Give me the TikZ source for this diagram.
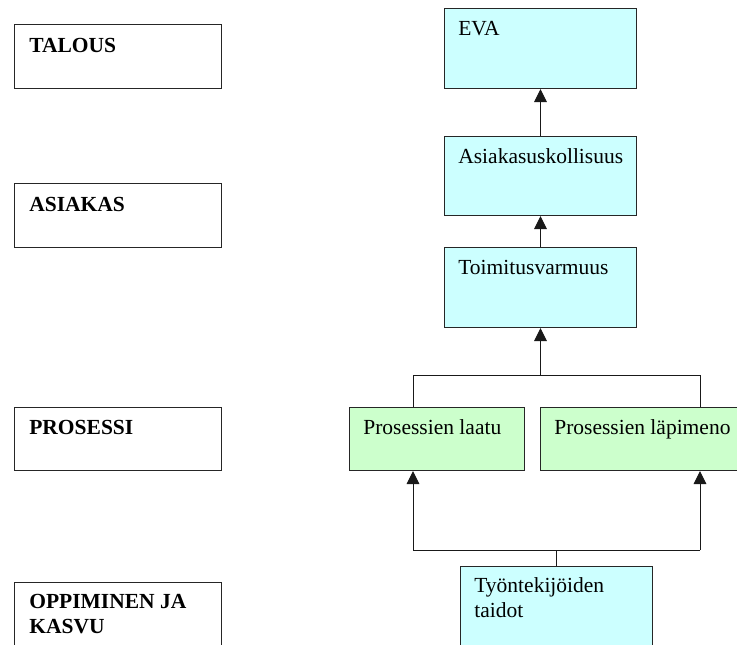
\documentclass[tikz,border=0pt]{standalone}
\usepackage{fontspec}
\setmainfont{Liberation Serif}
\usetikzlibrary{arrows.meta,calc}
\definecolor{boxcyan}{HTML}{CCFFFF}
\definecolor{boxgreen}{HTML}{CCFFCC}
\begin{document}
\begin{tikzpicture}[x=0.6pt,y=-0.6pt,
  box/.style={draw=black!85, line width=0.6pt, inner sep=0pt, anchor=north west},
  perspective/.style={box, fill=white},
  cyanbox/.style={box, fill=boxcyan},
  greenbox/.style={box, fill=boxgreen},
  headtext/.style={anchor=base west, inner sep=0pt, font=\fontsize{12.9}{14.8}\selectfont\bfseries, align=left},
  bodytext/.style={anchor=base west, inner sep=0pt, font=\fontsize{12.9}{14.8}\selectfont, align=left},
  link/.style={draw=black!90, line width=0.6pt},
  arr/.style={link, -{Triangle[width=7.6pt,length=7.8pt]}}]
\clip (0,0) rectangle (737,644);
\fill[white] (0,0) rectangle (737,644);

% perspectives on the left
\node[perspective, minimum width=207*0.6pt, minimum height=64*0.6pt] (talous) at (14,24) {};
\node[perspective, minimum width=207*0.6pt, minimum height=64*0.6pt] (asiakas) at (14,183) {};
\node[perspective, minimum width=207*0.6pt, minimum height=63*0.6pt] (prosessi) at (14,407) {};
\node[perspective, minimum width=207*0.6pt, minimum height=80*0.6pt] (oppiminen) at (14,582) {};
\node[headtext] (talousT) at ($(talous.north west)+(15,28)$) {TALOUS};
\node[headtext] (asiakasT) at ($(asiakas.north west)+(15,28)$) {ASIAKAS};
\node[headtext] (prosessiT) at ($(prosessi.north west)+(15,27)$) {PROSESSI};
% two-line labels: the base anchor sits on the last line
\node[headtext] (oppiminenT) at ($(oppiminen.north west)+(15,51.5)$) {OPPIMINEN JA\\KASVU};

% measures on the right
\node[cyanbox, minimum width=192*0.6pt, minimum height=80*0.6pt] (eva) at (444,8) {};
\node[cyanbox, minimum width=192*0.6pt, minimum height=79*0.6pt] (uskoll) at (444,136) {};
\node[cyanbox, minimum width=192*0.6pt, minimum height=80*0.6pt] (toimitus) at (444,247) {};
\node[greenbox, minimum width=175*0.6pt, minimum height=63*0.6pt] (laatu) at (349,407) {};
\node[greenbox, minimum width=197*0.6pt, minimum height=63*0.6pt] (lapi) at (540,407) {};
\node[cyanbox, minimum width=192*0.6pt, minimum height=90*0.6pt] (taidot) at (460,566) {};

\node[bodytext] (evaT) at ($(eva.north west)+(14,27)$) {EVA};
\node[bodytext] (uskollT) at ($(uskoll.north west)+(14,27)$) {Asiakasuskollisuus};
\node[bodytext] (toimitusT) at ($(toimitus.north west)+(14,27)$) {Toimitusvarmuus};
\node[bodytext] (laatuT) at ($(laatu.north west)+(14,27)$) {Prosessien laatu};
\node[bodytext] (lapiT) at ($(lapi.north west)+(14,27)$) {Prosessien läpimeno};
\node[bodytext] (taidotT) at ($(taidot.north west)+(14,51.5)$) {Työntekijöiden\\taidot};

% connectors
\draw[arr] (uskoll.north) -- (eva.south);
\draw[arr] (toimitus.north) -- (uskoll.south);

\coordinate (b1) at (413,375);
\coordinate (b2) at (700,375);
\draw[link] (b1 |- laatu.north) -- (b1) -- (b2) -- (b2 |- lapi.north);
\draw[arr] (toimitus.south |- b1) -- (toimitus.south);

\coordinate (c1) at (413,550);
\coordinate (c2) at (700,550);
\draw[link] (c1) -- (c2);
\draw[arr] (c1) -- (c1 |- laatu.south);
\draw[arr] (c2) -- (c2 |- lapi.south);
\draw[link] (taidot.north) -- (taidot.north |- c1);
\end{tikzpicture}
\end{document}
